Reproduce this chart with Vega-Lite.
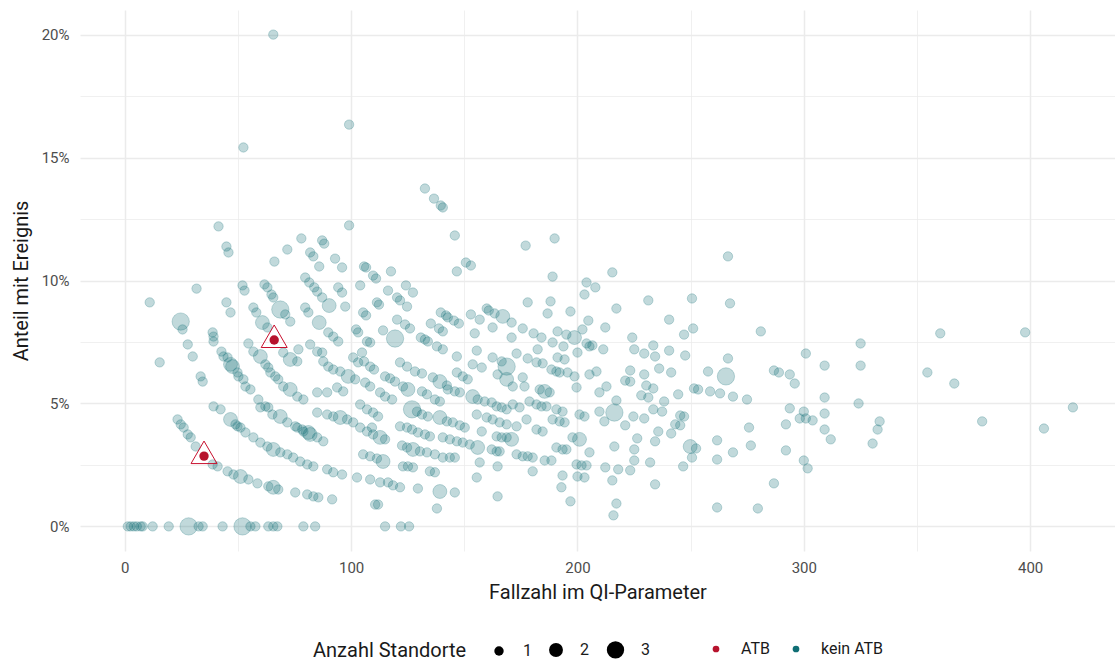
{
"$schema": "https://vega.github.io/schema/vega-lite/v6.json",
"width": 1035,
"height": 541,
"autosize": {"type": "none"},
"padding": {"left": 80, "top": 10, "right": 0, "bottom": 110},
"background": "white",
"config": {
  "font": "Roboto",
  "view": {"stroke": null},
  "axis": {"labelFont": "Roboto", "titleFont": "Roboto", "labelColor": "#4D4D4D", "titleColor": "#1A1A1A", "labelFontSize": 15, "titleFontSize": 20, "titleFontWeight": "normal", "gridColor": "#EBEBEB", "ticks": false, "domain": false, "labelFlush": false},
  "legend": {"labelFont": "Roboto", "titleFont": "Roboto", "labelFontSize": 16, "titleFontSize": 20, "titleFontWeight": "normal", "labelColor": "#1A1A1A", "titleColor": "#1A1A1A", "titleLimit": 400, "labelLimit": 300}
},
"datasets": {
"k": [
{"n":65.6,"p":20.0,"s":1},{"n":99.1,"p":16.34,"s":1},{"n":52.4,"p":15.41,"s":1},{"n":132.6,"p":13.74,"s":1},{"n":136.6,"p":13.33,"s":1},{"n":139.6,"p":13.05,"s":1},{"n":140.5,"p":12.97,"s":1},{"n":41.4,"p":12.2,"s":1},{"n":99.1,"p":12.24,"s":1},{"n":145.8,"p":11.83,"s":1},{"n":177.1,"p":11.42,"s":1},{"n":189.9,"p":11.71,"s":1},{"n":44.9,"p":11.38,"s":1},{"n":45.8,"p":11.14,"s":1},{"n":78.0,"p":11.71,"s":1},{"n":71.8,"p":11.26,"s":1},{"n":87.2,"p":11.63,"s":1},{"n":88.1,"p":11.5,"s":1},{"n":266.5,"p":10.98,"s":1},{"n":215.4,"p":10.33,"s":1},{"n":204,"p":9.92,"s":1},{"n":207.9,"p":9.72,"s":1},{"n":150.7,"p":10.73,"s":1},{"n":152.9,"p":10.61,"s":1},{"n":146.7,"p":10.37,"s":1},{"n":105.7,"p":10.57,"s":1},{"n":106.6,"p":10.53,"s":1},{"n":66.1,"p":10.77,"s":1},{"n":52.9,"p":9.59,"s":1},{"n":31.7,"p":9.67,"s":1},{"n":11.0,"p":9.11,"s":1},{"n":15.4,"p":6.67,"s":1},{"n":231.3,"p":9.19,"s":1},{"n":250.6,"p":9.27,"s":1},{"n":267.4,"p":9.07,"s":1},{"n":217.2,"p":8.86,"s":1},{"n":212.3,"p":8.09,"s":1},{"n":240.5,"p":8.41,"s":1},{"n":247.1,"p":7.8,"s":1},{"n":251.1,"p":8.05,"s":1},{"n":281,"p":7.93,"s":1},{"n":360.3,"p":7.85,"s":1},{"n":397.8,"p":7.89,"s":1},{"n":325.1,"p":7.44,"s":1},{"n":224.2,"p":7.68,"s":1},{"n":211.4,"p":7.2,"s":1},{"n":225.1,"p":7.2,"s":1},{"n":233.5,"p":7.36,"s":1},{"n":229.5,"p":7.03,"s":1},{"n":234.3,"p":6.91,"s":1},{"n":240.5,"p":7.15,"s":1},{"n":247.6,"p":6.95,"s":1},{"n":266.5,"p":6.83,"s":1},{"n":300.9,"p":7.03,"s":1},{"n":309.2,"p":6.54,"s":1},{"n":325.1,"p":6.54,"s":1},{"n":354.6,"p":6.26,"s":1},{"n":366.5,"p":5.81,"s":1},{"n":223.3,"p":6.34,"s":1},{"n":236.1,"p":6.42,"s":1},{"n":241.4,"p":6.26,"s":1},{"n":257.7,"p":6.3,"s":1},{"n":265.6,"p":6.1,"s":3},{"n":286.8,"p":6.34,"s":1},{"n":289,"p":6.26,"s":1},{"n":293.8,"p":6.18,"s":1},{"n":296,"p":5.81,"s":1},{"n":229.5,"p":6.18,"s":1},{"n":221.1,"p":5.93,"s":1},{"n":223.3,"p":5.89,"s":1},{"n":230.4,"p":5.73,"s":1},{"n":233.5,"p":5.61,"s":1},{"n":212.8,"p":5.69,"s":1},{"n":251.5,"p":5.61,"s":1},{"n":253.3,"p":5.57,"s":1},{"n":258.6,"p":5.49,"s":1},{"n":263,"p":5.41,"s":1},{"n":268.7,"p":5.28,"s":1},{"n":274.9,"p":5.16,"s":1},{"n":244.5,"p":5.37,"s":1},{"n":228.2,"p":5.33,"s":1},{"n":231.3,"p":5.24,"s":1},{"n":238.3,"p":5.08,"s":1},{"n":309.2,"p":5.24,"s":1},{"n":324.2,"p":5.0,"s":1},{"n":418.9,"p":4.84,"s":1},{"n":216.3,"p":4.63,"s":3},{"n":217.2,"p":5.12,"s":1},{"n":233.5,"p":4.76,"s":1},{"n":237.4,"p":4.67,"s":1},{"n":224.7,"p":4.47,"s":1},{"n":229.5,"p":4.39,"s":1},{"n":245.4,"p":4.51,"s":1},{"n":247.1,"p":4.47,"s":1},{"n":293.8,"p":4.8,"s":1},{"n":309.2,"p":4.59,"s":1},{"n":300,"p":4.67,"s":1},{"n":298.2,"p":4.39,"s":1},{"n":300.9,"p":4.39,"s":1},{"n":303.9,"p":4.31,"s":1},{"n":333.5,"p":4.27,"s":1},{"n":332.6,"p":3.94,"s":1},{"n":378.8,"p":4.27,"s":1},{"n":406.1,"p":3.98,"s":1},{"n":221.1,"p":4.11,"s":1},{"n":211.9,"p":4.27,"s":1},{"n":243.2,"p":4.15,"s":1},{"n":245.4,"p":4.11,"s":1},{"n":235.7,"p":3.86,"s":1},{"n":241.4,"p":3.78,"s":1},{"n":275.8,"p":4.02,"s":1},{"n":292.1,"p":4.15,"s":1},{"n":309.2,"p":3.94,"s":1},{"n":311.9,"p":3.54,"s":1},{"n":330.4,"p":3.37,"s":1},{"n":226.4,"p":3.58,"s":1},{"n":234.3,"p":3.46,"s":1},{"n":216.3,"p":3.25,"s":1},{"n":225.1,"p":3.13,"s":1},{"n":249.8,"p":3.25,"s":2},{"n":252.4,"p":3.17,"s":1},{"n":261.7,"p":3.5,"s":1},{"n":276.6,"p":3.29,"s":1},{"n":292.1,"p":3.09,"s":1},{"n":268.7,"p":3.01,"s":1},{"n":250.6,"p":2.8,"s":1},{"n":225.1,"p":2.68,"s":1},{"n":232.1,"p":2.6,"s":1},{"n":212.3,"p":2.4,"s":1},{"n":218,"p":2.32,"s":1},{"n":223.3,"p":2.28,"s":1},{"n":246.7,"p":2.44,"s":1},{"n":261.7,"p":2.72,"s":1},{"n":300,"p":2.68,"s":1},{"n":301.7,"p":2.36,"s":1},{"n":215.4,"p":1.87,"s":1},{"n":234.3,"p":1.71,"s":1},{"n":286.8,"p":1.75,"s":1},{"n":217.2,"p":0.93,"s":1},{"n":215.9,"p":0.45,"s":1},{"n":261.7,"p":0.77,"s":1},{"n":279.7,"p":0.73,"s":1},
{"n":189,"p":10.16,"s":1},{"n":203.1,"p":9.43,"s":1},{"n":117.6,"p":10.37,"s":1},{"n":109.7,"p":10.2,"s":1},{"n":111,"p":10.08,"s":1},{"n":104,"p":9.8,"s":1},{"n":124.2,"p":9.8,"s":1},{"n":127.3,"p":9.51,"s":1},{"n":116.3,"p":9.59,"s":1},{"n":120.3,"p":9.31,"s":1},{"n":121.6,"p":9.19,"s":1},{"n":124.7,"p":8.94,"s":1},{"n":111.4,"p":9.11,"s":1},{"n":112.3,"p":9.02,"s":1},{"n":105.3,"p":8.7,"s":1},{"n":106.6,"p":8.58,"s":1},{"n":120.3,"p":8.41,"s":1},{"n":123.8,"p":8.21,"s":1},{"n":126,"p":8.05,"s":1},{"n":114.1,"p":7.97,"s":1},{"n":119.4,"p":7.64,"s":3},{"n":107,"p":7.52,"s":1},{"n":108.4,"p":7.48,"s":1},{"n":178,"p":9.11,"s":1},{"n":188.1,"p":9.15,"s":1},{"n":186.8,"p":8.66,"s":1},{"n":196.9,"p":8.74,"s":1},{"n":204.8,"p":8.37,"s":1},{"n":139.6,"p":8.7,"s":1},{"n":141.9,"p":8.58,"s":1},{"n":142.7,"p":8.5,"s":1},{"n":145.4,"p":8.37,"s":1},{"n":147.6,"p":8.25,"s":1},{"n":152.9,"p":8.62,"s":1},{"n":156.8,"p":8.41,"s":1},{"n":159.9,"p":8.86,"s":1},{"n":160.8,"p":8.78,"s":1},{"n":163.4,"p":8.66,"s":1},{"n":167,"p":8.54,"s":2},{"n":170.9,"p":8.29,"s":1},{"n":162.5,"p":8.09,"s":1},{"n":135.2,"p":8.25,"s":1},{"n":138.8,"p":8.05,"s":1},{"n":140.5,"p":7.93,"s":1},{"n":130.8,"p":7.68,"s":1},{"n":132.6,"p":7.6,"s":1},{"n":133.9,"p":7.52,"s":1},{"n":175.8,"p":8.05,"s":1},{"n":180.6,"p":7.85,"s":1},{"n":184.1,"p":7.68,"s":1},{"n":191.2,"p":7.93,"s":1},{"n":195.1,"p":7.8,"s":1},{"n":198.7,"p":7.68,"s":2},{"n":202.2,"p":8.01,"s":1},{"n":154.6,"p":7.85,"s":1},{"n":170.9,"p":7.68,"s":1},{"n":189,"p":7.48,"s":1},{"n":204,"p":7.44,"s":1},{"n":206.6,"p":7.36,"s":1},
{"n":137.9,"p":7.32,"s":1},{"n":140.5,"p":7.2,"s":1},{"n":146.7,"p":6.91,"s":1},{"n":155.5,"p":7.15,"s":1},{"n":162.5,"p":6.87,"s":1},{"n":166.5,"p":6.71,"s":1},{"n":168.7,"p":6.5,"s":3},{"n":173.1,"p":7.03,"s":1},{"n":178,"p":6.83,"s":1},{"n":182.4,"p":7.2,"s":1},{"n":193.8,"p":7.32,"s":1},{"n":181.9,"p":6.67,"s":1},{"n":184.6,"p":6.63,"s":1},{"n":191.2,"p":6.87,"s":1},{"n":194.3,"p":6.79,"s":1},{"n":200,"p":7.07,"s":1},{"n":205.3,"p":7.32,"s":1},{"n":104.8,"p":7.07,"s":1},{"n":105.7,"p":6.71,"s":1},{"n":108.4,"p":6.5,"s":1},{"n":110.1,"p":6.38,"s":1},{"n":121.6,"p":6.67,"s":1},{"n":124.7,"p":6.5,"s":1},{"n":128.2,"p":6.3,"s":1},{"n":131.3,"p":6.22,"s":1},{"n":136.1,"p":6.06,"s":1},{"n":139.2,"p":5.89,"s":2},{"n":142.3,"p":5.73,"s":1},{"n":146.7,"p":6.26,"s":1},{"n":149.3,"p":6.1,"s":1},{"n":151.5,"p":5.98,"s":1},{"n":153.7,"p":6.59,"s":1},{"n":157.7,"p":6.46,"s":1},{"n":164.7,"p":6.18,"s":1},{"n":168.7,"p":5.98,"s":2},{"n":115,"p":6.1,"s":1},{"n":117.2,"p":6.02,"s":1},{"n":119.4,"p":5.89,"s":1},{"n":106.2,"p":5.85,"s":1},{"n":108.4,"p":5.69,"s":1},{"n":171.4,"p":5.69,"s":1},{"n":175.8,"p":6.06,"s":1},{"n":176.6,"p":5.69,"s":1},{"n":188.5,"p":6.38,"s":1},{"n":190.7,"p":6.3,"s":1},{"n":192.1,"p":6.26,"s":1},{"n":183.3,"p":5.57,"s":1},{"n":185.5,"p":5.49,"s":2},{"n":187.7,"p":5.45,"s":1},{"n":195.6,"p":6.26,"s":1},{"n":198.7,"p":6.1,"s":1},{"n":199.6,"p":5.65,"s":1},{"n":205.3,"p":6.18,"s":1},{"n":208.4,"p":6.3,"s":1},{"n":209.7,"p":5.45,"s":1},
{"n":112.8,"p":5.45,"s":1},{"n":115,"p":5.28,"s":1},{"n":118.1,"p":5.16,"s":1},{"n":122.9,"p":5.69,"s":1},{"n":125.1,"p":5.57,"s":2},{"n":131.3,"p":5.49,"s":1},{"n":133.5,"p":5.37,"s":1},{"n":137,"p":5.16,"s":1},{"n":139.2,"p":5.08,"s":1},{"n":142.7,"p":5.57,"s":1},{"n":145.8,"p":5.49,"s":1},{"n":148,"p":5.45,"s":1},{"n":153.7,"p":5.28,"s":2},{"n":155.9,"p":5.16,"s":1},{"n":159,"p":5.08,"s":1},{"n":162.1,"p":5.04,"s":1},{"n":164.3,"p":4.88,"s":1},{"n":166.5,"p":4.84,"s":1},{"n":168.7,"p":4.76,"s":1},{"n":171.4,"p":4.96,"s":1},{"n":174.4,"p":4.84,"s":1},{"n":178.8,"p":5.08,"s":1},{"n":181.9,"p":4.96,"s":1},{"n":184.1,"p":4.88,"s":1},{"n":186.3,"p":4.88,"s":1},{"n":190.7,"p":4.76,"s":1},{"n":193.4,"p":4.67,"s":1},{"n":200.9,"p":4.55,"s":1},{"n":203.1,"p":4.47,"s":1},{"n":177.5,"p":4.35,"s":1},{"n":104,"p":4.96,"s":1},{"n":107,"p":4.76,"s":1},{"n":109.7,"p":4.63,"s":1},{"n":111.9,"p":4.47,"s":1},{"n":126.9,"p":4.76,"s":3},{"n":129.1,"p":4.67,"s":1},{"n":131.3,"p":4.55,"s":1},{"n":133.9,"p":4.47,"s":1},{"n":139.2,"p":4.43,"s":2},{"n":142.3,"p":4.27,"s":1},{"n":144.9,"p":4.23,"s":1},{"n":148,"p":4.11,"s":1},{"n":150.2,"p":4.02,"s":1},{"n":155.5,"p":4.55,"s":1},{"n":159.9,"p":4.43,"s":1},{"n":162.5,"p":4.35,"s":1},{"n":165.6,"p":4.23,"s":1},{"n":168.7,"p":4.15,"s":1},{"n":173.1,"p":4.07,"s":1},{"n":181.9,"p":3.94,"s":1},{"n":184.6,"p":3.86,"s":1},{"n":189,"p":4.35,"s":1},{"n":192.1,"p":4.27,"s":1},{"n":194.3,"p":4.23,"s":1},{"n":197.8,"p":3.62,"s":1},{"n":200.9,"p":3.54,"s":2},{"n":209.7,"p":4.67,"s":1},{"n":104,"p":4.02,"s":1},{"n":107,"p":3.86,"s":1},{"n":109.7,"p":3.74,"s":1},{"n":112.8,"p":3.62,"s":2},{"n":115,"p":3.54,"s":1},{"n":121.6,"p":4.07,"s":1},{"n":124.7,"p":4.02,"s":1},{"n":126.9,"p":3.94,"s":1},{"n":129.5,"p":3.82,"s":1},{"n":132.6,"p":3.74,"s":1},{"n":134.8,"p":3.66,"s":1},{"n":140.5,"p":3.62,"s":1},{"n":143.6,"p":3.54,"s":1},{"n":146.7,"p":3.46,"s":1},{"n":149.3,"p":3.41,"s":1},{"n":152.4,"p":3.33,"s":1},{"n":155.9,"p":3.21,"s":2},{"n":157.7,"p":3.86,"s":1},{"n":164.3,"p":3.66,"s":1},{"n":166.5,"p":3.62,"s":1},{"n":168.7,"p":3.62,"s":1},{"n":170.9,"p":3.54,"s":2},{"n":162.1,"p":3.13,"s":1},{"n":164.3,"p":3.05,"s":1},{"n":165.6,"p":3.05,"s":1},{"n":173.1,"p":2.93,"s":1},{"n":175.8,"p":2.85,"s":1},{"n":178,"p":2.85,"s":1},{"n":180.2,"p":2.8,"s":1},{"n":185.5,"p":2.68,"s":1},{"n":188.5,"p":2.68,"s":1},{"n":190.7,"p":3.21,"s":1},{"n":193.4,"p":3.13,"s":1},{"n":195.1,"p":3.13,"s":1},{"n":205.3,"p":3.01,"s":1},{"n":199.6,"p":2.52,"s":1},{"n":201.8,"p":2.48,"s":1},{"n":204,"p":2.48,"s":1},{"n":200,"p":2.03,"s":1},{"n":203.1,"p":1.99,"s":1},{"n":193.4,"p":2.07,"s":1},{"n":192.9,"p":1.59,"s":1},{"n":196.9,"p":1.02,"s":1},{"n":122.5,"p":3.29,"s":1},{"n":124.7,"p":3.21,"s":1},{"n":127.3,"p":3.13,"s":2},{"n":130.4,"p":3.05,"s":1},{"n":133.5,"p":3.01,"s":1},{"n":137,"p":2.93,"s":1},{"n":140.5,"p":2.8,"s":1},{"n":143.6,"p":2.8,"s":1},{"n":145.8,"p":2.8,"s":1},{"n":105.3,"p":2.93,"s":1},{"n":108.4,"p":2.85,"s":1},{"n":111.4,"p":2.76,"s":1},{"n":114.1,"p":2.64,"s":2},{"n":122.9,"p":2.44,"s":1},{"n":125.1,"p":2.44,"s":1},{"n":127.3,"p":2.4,"s":1},{"n":134.8,"p":2.24,"s":1},{"n":137,"p":2.2,"s":1},{"n":121.6,"p":1.59,"s":1},{"n":118.5,"p":1.67,"s":1},{"n":116.3,"p":1.79,"s":1},{"n":129.5,"p":1.54,"s":1},{"n":108.4,"p":1.91,"s":1},{"n":112.8,"p":1.79,"s":1},{"n":139.2,"p":1.42,"s":2},{"n":145.8,"p":1.38,"s":1},{"n":156.8,"p":2.6,"s":1},{"n":164.7,"p":2.44,"s":1},{"n":180.2,"p":2.24,"s":1},{"n":155.5,"p":1.99,"s":1},{"n":164.7,"p":1.22,"s":1},{"n":137.9,"p":0.73,"s":1},{"n":110.6,"p":0.89,"s":1},{"n":111.9,"p":0.89,"s":1},
{"n":1.3,"p":0,"s":1},{"n":2.6,"p":0,"s":1},{"n":4.0,"p":0,"s":1},{"n":5.3,"p":0,"s":1},{"n":7.0,"p":0,"s":1},{"n":7.9,"p":0,"s":1},{"n":12.3,"p":0,"s":1},{"n":19.4,"p":0,"s":1},{"n":28.2,"p":0,"s":3},{"n":32.6,"p":0,"s":1},{"n":34.4,"p":0,"s":1},{"n":43.2,"p":0,"s":1},{"n":52,"p":0,"s":3},{"n":55.5,"p":0,"s":1},{"n":57.7,"p":0,"s":1},{"n":63.4,"p":0,"s":1},{"n":65.6,"p":0,"s":1},{"n":67.4,"p":0,"s":1},{"n":78.9,"p":0,"s":1},{"n":84.1,"p":0,"s":1},{"n":115,"p":0,"s":1},{"n":122,"p":0,"s":1},{"n":125.6,"p":0,"s":1},
{"n":81.9,"p":11.14,"s":1},{"n":83.3,"p":10.98,"s":1},{"n":85.9,"p":10.57,"s":1},{"n":92.9,"p":10.89,"s":1},{"n":96,"p":10.53,"s":1},{"n":79.7,"p":10.12,"s":1},{"n":81.5,"p":9.92,"s":1},{"n":83.7,"p":9.72,"s":1},{"n":85,"p":9.55,"s":1},{"n":87.2,"p":9.31,"s":1},{"n":90.3,"p":8.98,"s":2},{"n":94.3,"p":9.72,"s":1},{"n":96,"p":9.51,"s":1},{"n":52,"p":9.8,"s":1},{"n":61.7,"p":9.84,"s":1},{"n":63,"p":9.72,"s":1},{"n":64.8,"p":9.43,"s":1},{"n":65.6,"p":9.31,"s":1},{"n":68.7,"p":8.82,"s":3},{"n":70.9,"p":8.62,"s":1},{"n":73.1,"p":8.33,"s":1},{"n":56.8,"p":8.9,"s":1},{"n":58.1,"p":8.7,"s":1},{"n":60.8,"p":8.29,"s":2},{"n":63,"p":8.09,"s":1},{"n":79.7,"p":8.9,"s":1},{"n":81.1,"p":8.7,"s":1},{"n":85.9,"p":8.29,"s":2},{"n":89.9,"p":7.89,"s":1},{"n":92.1,"p":7.72,"s":1},{"n":94.3,"p":7.52,"s":1},{"n":102.2,"p":8.01,"s":1},{"n":103.1,"p":7.89,"s":1},{"n":44.9,"p":9.11,"s":1},{"n":46.7,"p":8.7,"s":1},{"n":24.7,"p":8.33,"s":3},{"n":25.5,"p":8.01,"s":1},{"n":38.8,"p":7.89,"s":1},{"n":39.2,"p":7.72,"s":1},{"n":27.8,"p":7.4,"s":1},{"n":42.7,"p":7.11,"s":1},{"n":54.6,"p":7.44,"s":1},{"n":56.8,"p":7.11,"s":1},{"n":59.9,"p":6.91,"s":2},{"n":81.9,"p":7.4,"s":1},{"n":87.2,"p":7.07,"s":1},{"n":97.4,"p":8.94,"s":1},{"n":30,"p":6.91,"s":1},{"n":45.4,"p":6.87,"s":1},{"n":47.6,"p":6.5,"s":2},{"n":50.2,"p":6.1,"s":1},{"n":53.3,"p":5.69,"s":1},{"n":62.1,"p":6.59,"s":1},{"n":64.3,"p":6.26,"s":1},{"n":66.5,"p":6.1,"s":1},{"n":70,"p":7.07,"s":1},{"n":73.1,"p":6.79,"s":2},{"n":76.2,"p":6.71,"s":1},{"n":76.7,"p":7.2,"s":1},{"n":85,"p":7.11,"s":1},{"n":87.7,"p":6.71,"s":1},{"n":89.9,"p":6.5,"s":1},{"n":92.1,"p":6.38,"s":1},{"n":95.2,"p":6.3,"s":1},{"n":98.7,"p":6.1,"s":2},{"n":101.8,"p":5.98,"s":1},{"n":100.9,"p":6.87,"s":1},{"n":103.1,"p":6.67,"s":1},{"n":33.5,"p":6.1,"s":1},{"n":34.4,"p":5.89,"s":1},{"n":59,"p":5.16,"s":1},{"n":39.2,"p":4.88,"s":1},{"n":42.3,"p":4.76,"s":1},{"n":46.7,"p":4.35,"s":2},{"n":49.8,"p":4.07,"s":1},{"n":53.3,"p":3.82,"s":1},{"n":62.1,"p":4.88,"s":1},{"n":63.4,"p":4.84,"s":1},{"n":68.7,"p":4.47,"s":2},{"n":71.8,"p":4.23,"s":1},{"n":75.3,"p":4.07,"s":1},{"n":78.4,"p":3.94,"s":1},{"n":81.1,"p":3.82,"s":2},{"n":85,"p":4.63,"s":1},{"n":89.4,"p":4.55,"s":1},{"n":92.1,"p":4.47,"s":1},{"n":95.2,"p":4.43,"s":2},{"n":98.2,"p":4.35,"s":1},{"n":100.9,"p":4.23,"s":1},{"n":109.2,"p":4.02,"s":1},{"n":93.8,"p":5.65,"s":1},{"n":96.5,"p":5.49,"s":1},{"n":85,"p":5.45,"s":1},{"n":89.4,"p":5.45,"s":1},{"n":39.2,"p":7.52,"s":1},{"n":43.6,"p":6.91,"s":1},{"n":46.7,"p":6.59,"s":2},{"n":49.8,"p":6.26,"s":1},{"n":52.4,"p":5.98,"s":1},{"n":55.5,"p":5.57,"s":1},
{"n":63.4,"p":6.46,"s":1},{"n":67.8,"p":5.98,"s":1},{"n":70,"p":5.69,"s":1},{"n":73.1,"p":5.57,"s":2},{"n":76.2,"p":5.28,"s":1},{"n":78.9,"p":5.16,"s":1},{"n":48.9,"p":4.15,"s":1},{"n":51.1,"p":4.02,"s":1},{"n":56.8,"p":3.62,"s":1},{"n":59.9,"p":4.84,"s":1},{"n":65.2,"p":4.55,"s":1},{"n":76.2,"p":4.02,"s":1},{"n":78.9,"p":3.86,"s":1},{"n":81.9,"p":3.74,"s":2},{"n":85,"p":3.62,"s":1},{"n":87.7,"p":3.46,"s":1},{"n":59.9,"p":3.41,"s":1},{"n":63,"p":3.25,"s":1},{"n":65.6,"p":3.13,"s":2},{"n":68.7,"p":3.01,"s":1},{"n":71.8,"p":2.93,"s":1},{"n":74.4,"p":2.8,"s":1},{"n":77.5,"p":2.64,"s":1},{"n":80.6,"p":2.52,"s":1},{"n":83.3,"p":2.44,"s":1},{"n":89.4,"p":2.32,"s":1},{"n":92.1,"p":2.2,"s":1},{"n":96,"p":2.11,"s":1},{"n":102.6,"p":1.99,"s":1},{"n":23.3,"p":4.35,"s":1},{"n":24.7,"p":4.15,"s":1},{"n":26,"p":4.02,"s":1},{"n":27.8,"p":3.74,"s":1},{"n":29.1,"p":3.62,"s":1},{"n":31.3,"p":3.25,"s":1},{"n":38.8,"p":2.52,"s":1},{"n":41,"p":2.44,"s":1},{"n":45.4,"p":2.24,"s":1},{"n":48,"p":2.11,"s":1},{"n":51.1,"p":2.03,"s":2},{"n":54.6,"p":1.91,"s":1},{"n":58.6,"p":1.75,"s":1},{"n":63.4,"p":1.63,"s":1},{"n":65.6,"p":1.59,"s":2},{"n":67.8,"p":1.5,"s":1},{"n":75.3,"p":1.38,"s":1},{"n":80.6,"p":1.3,"s":1},{"n":83.3,"p":1.22,"s":1},{"n":85.5,"p":1.18,"s":1},{"n":91.6,"p":1.1,"s":1}
],
"a": [
{"n":35,"p":2.86,"s":1},{"n":66,"p":7.58,"s":1}
]
},
"resolve": {"scale": {"size": "independent"}, "legend": {"size": "independent"}},
"encoding": {
  "x": {"field": "n", "type": "quantitative", "scale": {"domain": [-19.8, 437.5], "nice": false, "zero": false},
    "axis": {"title": "Fallzahl im QI-Parameter", "values": [0,50,100,150,200,250,300,350,400], "labelExpr": "datum.value % 100 === 0 ? datum.label : ''", "gridWidth": {"condition": {"test": "datum.value % 100 === 0", "value": 1.5}, "value": 0.75}, "labelPadding": 9, "titlePadding": 7}},
  "y": {"field": "p", "type": "quantitative", "scale": {"domain": [-1, 21], "nice": false, "zero": false},
    "axis": {"title": "Anteil mit Ereignis", "values": [0,2.5,5,7.5,10,12.5,15,17.5,20], "labelExpr": "datum.value % 5 === 0 ? datum.value + '%' : ''", "gridWidth": {"condition": {"test": "datum.value % 5 === 0", "value": 1.5}, "value": 0.75}, "labelPadding": 11, "titlePadding": 10}}
},
"layer": [
  {
    "data": {"name": "a"},
    "transform": [{"filter": "false"}],
    "mark": {"type": "point", "filled": true, "shape": "circle", "color": "black", "opacity": 1},
    "encoding": {
      "size": {"field": "s", "type": "quantitative", "scale": {"domain": [1, 3], "range": [88, 300]},
        "legend": {"title": "Anzahl Standorte", "values": [1, 2, 3], "format": "d", "direction": "horizontal", "orient": "none", "legendX": 233, "legendY": 630, "titleOrient": "left", "titlePadding": 24, "labelOffset": 16, "columnPadding": 14, "symbolFillColor": "black", "symbolStrokeColor": "black", "symbolOpacity": 1}}
    }
  },
  {
    "data": {"name": "k"},
    "mark": {"type": "point", "filled": true, "shape": "circle", "opacity": 1, "fillOpacity": 0.26, "stroke": "#0F6E74", "strokeOpacity": 0.28, "strokeWidth": 0.9},
    "encoding": {
      "size": {"field": "s", "type": "quantitative", "scale": {"domain": [1, 3], "range": [88, 300]}, "legend": null},
      "color": {"datum": "kein ATB", "type": "nominal", "scale": {"domain": ["ATB", "kein ATB"], "range": ["#B7132D", "#0F6E74"]},
        "legend": {"title": null, "direction": "horizontal", "orient": "none", "legendX": 628, "legendY": 631, "symbolSize": 45, "labelOffset": 17, "columnPadding": 18, "symbolType": "circle", "symbolStrokeWidth": 0, "symbolOpacity": 1}}
    }
  },
  {
    "data": {"name": "a"},
    "mark": {"type": "point", "filled": true, "shape": "circle", "opacity": 1, "size": 88},
    "encoding": {
      "color": {"datum": "ATB", "type": "nominal"}
    }
  },
  {
    "data": {"name": "a"},
    "mark": {"type": "point", "filled": false, "shape": "M0,-1.155L1,0.577L-1,0.577Z", "size": 676, "stroke": "#C8102E", "strokeWidth": 1, "opacity": 1},
    "encoding": {}
  }
]
}
